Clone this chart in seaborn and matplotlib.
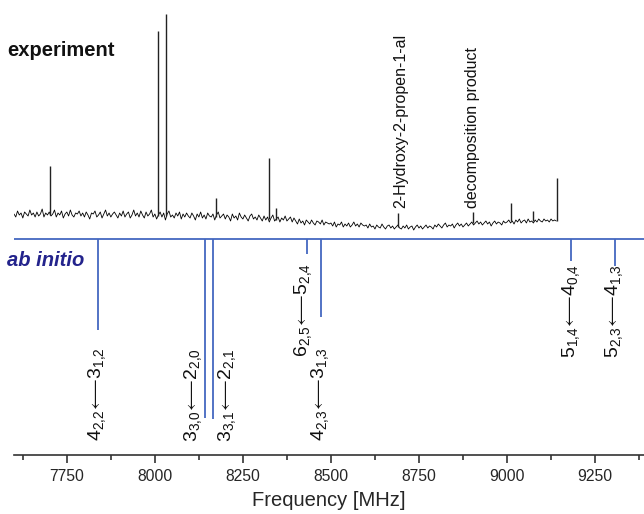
"""
Rotational spectrum: experiment vs ab initio stick spectrum.
"""

import numpy as np
import matplotlib
matplotlib.use('Agg')
import matplotlib.pyplot as plt
import matplotlib.ticker as ticker
import seaborn as sns

# experimental trace, read every 5 MHz (height above the ab initio baseline)
exp_freq = np.arange(7600, 9141, 5)
exp_signal = [
    25, 22, 28, 24, 26, 21, 27, 25, 23, 29, 24, 26, 22, 27, 23, 25, 30, 22, 26, 24,
    27, 23, 25, 29, 22, 26, 24, 28, 21, 25, 27, 23, 29, 24, 22, 26, 25, 28, 23, 26,
    22, 27, 24, 20, 26, 25, 28, 22, 24, 27, 21, 25, 29, 23, 26, 22, 25, 27, 24, 21,
    26, 23, 28, 22, 25, 27, 21, 24, 29, 23, 26, 22, 28, 24, 21, 27, 23, 25, 29, 22,
    25, 20, 24, 27, 22, 26, 19, 25, 28, 22, 24, 21, 26, 23, 27, 20, 25, 22, 26, 23,
    21, 26, 23, 19, 25, 22, 27, 21, 24, 20, 26, 23, 22, 25, 19, 24, 27, 21, 23, 25,
    20, 24, 22, 18, 25, 21, 23, 19, 26, 22, 20, 24, 21, 18, 23, 25, 20, 22, 19, 24,
    21, 18, 23, 19, 22, 17, 21, 24, 18, 20, 22, 17, 21, 19, 23, 18, 20, 22, 17, 21,
    18, 15, 20, 16, 18, 14, 19, 17, 15, 19, 16, 14, 18, 17, 15, 19, 14, 17, 16, 15,
    16, 13, 17, 12, 15, 14, 17, 12, 15, 13, 16, 12, 14, 17, 13, 15, 12, 16, 14, 13,
    14, 11, 15, 12, 13, 10, 14, 12, 11, 15, 12, 10, 13, 14, 11, 13, 10, 12, 14, 11,
    10, 13, 11, 14, 10, 12, 13, 9, 12, 14, 11, 13, 10, 12, 14, 11, 13, 12, 10, 14,
    12, 15, 13, 11, 14, 16, 12, 14, 13, 15, 11, 14, 16, 13, 15, 12, 14, 16, 13, 15,
    17, 14, 16, 18, 15, 17, 14, 16, 18, 15, 17, 13, 16, 18, 15, 17, 16, 14, 18, 16,
    17, 19, 16, 18, 15, 19, 17, 20, 16, 18, 19, 16, 20, 17, 18, 16, 19, 17, 20, 18,
    17, 20, 18, 19, 17, 20, 18, 19, 18,
]

# sharp lines in the experiment
peak_freq = [7702, 8009, 8031, 8173, 8323, 8344, 8691, 8902, 9011, 9075, 9141]
peak_base = [24, 23, 23, 22, 20, 19, 12, 16, 18, 18, 18]
peak_top = [73, 208, 225, 41, 81, 31, 26, 27, 36, 28, 61]

# ab initio predictions (drawn downwards)
calc_freq = [7839, 8142, 8164, 8431, 8472, 9181, 9307]
calc_int = [91, 179, 180, 15, 78, 22, 27]
calc_labels = [
    r'$4_{2{,}2}\!{\longleftarrow}\!3_{1{,}2}$',
    r'$3_{3{,}0}\!{\longleftarrow}\!2_{2{,}0}$',
    r'$3_{3{,}1}\!{\longleftarrow}\!2_{2{,}1}$',
    r'$6_{2{,}5}\!{\longleftarrow}\!5_{2{,}4}$',
    r'$4_{2{,}3}\!{\longleftarrow}\!3_{1{,}3}$',
    r'$5_{1{,}4}\!{\longleftarrow}\!4_{0{,}4}$',
    r'$5_{2{,}3}\!{\longleftarrow}\!4_{1{,}3}$',
]

# assigned features in the experiment
note_freq = [8698, 8902]
note_text = ['2-Hydroxy-2-propen-1-al', 'decomposition product']

xticks = [7750, 8000, 8250, 8500, 8750, 9000, 9250]

# label placement
label_x = [7835, 8108, 8204, 8421, 8469, 9181, 9304]
label_y = [-155, -156, -156, -71, -155, -72, -72]

sns.set_style('ticks')
plt.rcParams['font.family'] = ['Liberation Sans', 'DejaVu Sans']
plt.rcParams['mathtext.fontset'] = 'custom'
plt.rcParams['mathtext.rm'] = 'Liberation Sans'
plt.rcParams['mathtext.default'] = 'regular'

blue = '#4468c0'

fig = plt.figure(figsize=(6.44, 5.14), dpi=100)
ax = fig.add_axes([14 / 644, 59 / 514, 630 / 644, 455 / 514])

# experiment
sns.lineplot(x=exp_freq, y=exp_signal, color='black', lw=0.6, ax=ax,
             estimator=None, sort=False)
ax.vlines(peak_freq, peak_base, peak_top, color='#222222', lw=1.0)

# ab initio sticks
ax.axhline(0, color=blue, lw=1.3)
ax.vlines(calc_freq, 0, [-v for v in calc_int], color=blue, lw=1.3)

for x, y, lab in zip(label_x, label_y, calc_labels):
    ax.text(x, y, lab, rotation=90, ha='center', va='center', fontsize=14,
            color='#111111')

for x, t in zip(note_freq, note_text):
    ax.text(x, 31, t, rotation=90, ha='center', va='bottom', fontsize=11.5,
            color='#111111')

ax.text(7580, 189, 'experiment', fontsize=14.5, fontweight='bold',
        ha='left', va='center', color='#111111', clip_on=False)
ax.text(7580, -21, 'ab initio', fontsize=14.5, fontweight='bold',
        style='italic', ha='left', va='center', color='#23238c', clip_on=False)

ax.set_xlim(7600, 9389)
ax.set_ylim(-216, 239)
ax.set_xticks(xticks)
ax.xaxis.set_minor_locator(ticker.MultipleLocator(125))
ax.set_yticks([])
sns.despine(ax=ax, left=True, top=True, right=True)
ax.spines['bottom'].set_linewidth(1.2)
ax.spines['bottom'].set_color('#333333')
ax.tick_params(axis='x', which='major', length=6, width=1.2, color='#333333',
               labelsize=11.3, pad=4)
ax.tick_params(axis='x', which='minor', length=3.5, width=1.2, color='#333333')
ax.set_xlabel('Frequency [MHz]', fontsize=14.5, labelpad=5)
ax.set_ylabel('')

fig.savefig('out.png', dpi=100)
